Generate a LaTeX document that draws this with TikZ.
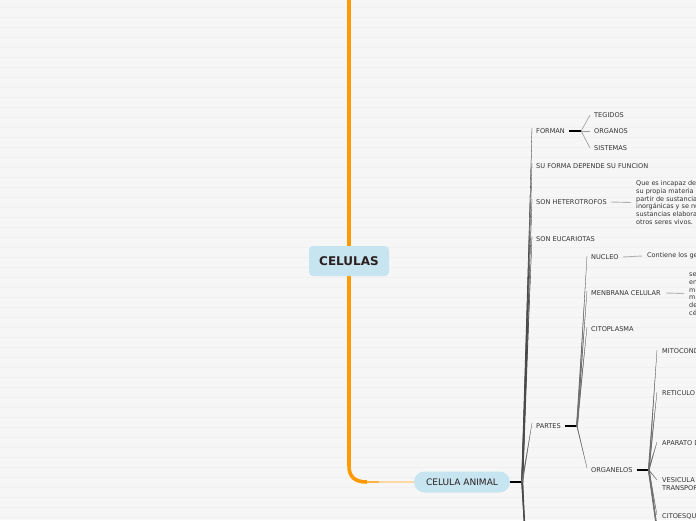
\documentclass[tikz,border=0pt]{standalone}
\usepackage{fontspec}
\setmainfont{DejaVu Sans}
\usetikzlibrary{calc}
\definecolor{bg}{HTML}{F6F6F6}
\definecolor{bgline}{HTML}{F0F0F0}
\definecolor{orng}{HTML}{FF9900}
\definecolor{pale}{HTML}{FDD8A2}
\definecolor{nodeblue}{HTML}{C6E5F0}
\definecolor{txt}{HTML}{333333}
\definecolor{titletxt}{HTML}{2B1F1F}
\definecolor{trunk}{HTML}{4A4A4A}
\definecolor{twig}{HTML}{707070}
\newcommand\tbr[4]{\fill[#4] ($(#1)+(-#3,0)$) -- (#2) -- ($(#1)+(#3,0)$) -- cycle; \draw[#4,line width=0.3pt] (#1) -- (#2);}
\begin{document}
\begin{tikzpicture}[x=1pt,y=-1pt,
  lbl/.style={anchor=west,inner sep=0pt,font=\fontsize{6.6}{7.8}\selectfont,text=txt},
  body/.style={anchor=west,inner sep=0pt,align=left,font=\fontsize{6.5}{7.8}\selectfont,text=txt},
  stub/.style={line width=1.6pt,draw=black},
  leader/.style={line width=0.9pt,draw=gray!60},
  sub/.style={line width=0.6pt,draw=gray!80},
  topic/.style={fill=nodeblue,inner sep=0pt}]
\useasboundingbox (0,0) rectangle (696,520);
\fill[bg] (0,0) rectangle (696,520);
\foreach \yy in {7,17,...,517} \draw[bgline,line width=0.8pt] (0,\yy) -- (696,\yy);
\clip (0,0) rectangle (696,520);

% orange connectors
\coordinate (ce0) at (349,261);
\coordinate (ca0) at (462,482);
\coordinate (topend) at (349,-2);
\coordinate (bend) at (367,482);
\draw[orng,line width=3.6pt] (ce0) -- (topend);
\draw[orng,line width=3.6pt] (ce0) -- (349,466) .. controls (349,477) and (355,482) .. (bend);
\draw[pale,line width=1.6pt] (bend) -- (ca0);
\draw[orng!60!pale,line width=2.2pt] (bend) -- ++(12,0);

% main nodes
\node[topic,minimum width=80,minimum height=30,rounded corners=4pt,
  font=\fontsize{12}{14}\bfseries\selectfont,text=titletxt] (ce) at (ce0) {CELULAS};
\node[topic,minimum width=96,minimum height=21,rounded corners=10.5pt,
  font=\fontsize{9}{11}\selectfont,text=titletxt] (ca) at (ca0) {CELULA ANIMAL};

% children of CELULA ANIMAL
\node[lbl] (forman) at (536,131) {FORMAN};
\node[lbl] (suforma) at (536,166) {SU FORMA DEPENDE SU FUNCION};
\node[lbl] (hetero) at (536,202) {SON HETEROTROFOS};
\node[lbl] (euca) at (536,239) {SON EUCARIOTAS};
\node[lbl] (partes) at (536,426) {PARTES};

\coordinate (caj) at ($(ca.east)+(12,0)$);
\draw[stub] (ca.east) -- (caj);
\coordinate (forman-in) at ($(forman.west)+(-4,-3)$);
\coordinate (suforma-in) at ($(suforma.west)+(-4,-3)$);
\coordinate (hetero-in) at ($(hetero.west)+(-4,-3)$);
\coordinate (euca-in) at ($(euca.west)+(-4,-3)$);
\coordinate (partes-in) at ($(partes.west)+(-4,-3)$);
\coordinate (cah1) at (526,560);
\coordinate (cah2) at (530,620);
\tbr{caj}{forman-in}{0.9}{trunk}
\tbr{caj}{suforma-in}{0.9}{trunk}
\tbr{caj}{hetero-in}{0.9}{trunk}
\tbr{caj}{euca-in}{0.9}{trunk}
\tbr{caj}{partes-in}{0.8}{twig}
\tbr{caj}{cah1}{0.9}{trunk}
\tbr{caj}{cah2}{0.9}{trunk}

% FORMAN
\coordinate (fj) at ($(forman.east)+(16,0)$);
\draw[stub,line width=1.2pt] ($(forman.east)+(4,0)$) -- (fj);
\node[lbl] (tegidos) at (594,115) {TEGIDOS};
\node[lbl] (organos) at (594,131) {ORGANOS};
\node[lbl] (sistemas) at (594,148) {SISTEMAS};
\draw[sub] (fj) -- ($(tegidos.west)+(-4,0)$);
\draw[sub] (fj) -- ($(organos.west)+(-4,0)$);
\draw[sub] (fj) -- ($(sistemas.west)+(-4,0)$);

% SON HETEROTROFOS
\node[body] (heteroT) at (636,202.5) {Que es incapaz de elaborar\\su propia materia orgánica a\\partir de sustancias\\inorgánicas y se nutre de\\sustancias elaboradas por\\otros seres vivos.};
\draw[leader] ($(hetero.east)+(4,0)$) -- ($(heteroT.west)+(-5,0)$);

% PARTES
\coordinate (pj) at ($(partes.east)+(16,0)$);
\draw[stub,line width=1.3pt] ($(partes.east)+(4,0)$) -- (pj);
\node[lbl] (nucleo) at (591,257) {NUCLEO};
\node[lbl] (menbrana) at (591,293) {MENBRANA CELULAR};
\node[lbl] (citoplasma) at (591,329) {CITOPLASMA};
\node[lbl] (organelos) at (591,470) {ORGANELOS};
\coordinate (nucleo-in) at ($(nucleo.west)+(-4,-1)$);
\coordinate (menbrana-in) at ($(menbrana.west)+(-4,-2)$);
\coordinate (citoplasma-in) at ($(citoplasma.west)+(-4,-2)$);
\coordinate (organelos-in) at ($(organelos.west)+(-4,-2)$);
\tbr{pj}{nucleo-in}{0.8}{twig}
\tbr{pj}{menbrana-in}{0.8}{twig}
\tbr{pj}{citoplasma-in}{0.8}{twig}
\tbr{pj}{organelos-in}{0.5}{twig}

\node[body] (nucleoT) at (647,256) {Contiene los genes};
\draw[leader] ($(nucleo.east)+(4,0)$) -- ($(nucleoT.west)+(-5,0)$);
\node[body] (menbranaT) at (689,293.5) {se encarga de envolver\\en su interior al\\medio interno y\\mantener la forma\\de la\\célula.};
\draw[leader] ($(menbrana.east)+(5,0)$) -- ($(menbranaT.west)+(-5,0)$);

% ORGANELOS
\coordinate (oj) at ($(organelos.east)+(16,0)$);
\draw[stub,line width=1.6pt] ($(organelos.east)+(4,0)$) -- (oj);
\node[lbl] (mito) at (662,351) {MITOCONDRIAS};
\node[lbl] (reti) at (662,393) {RETICULO ENDOPLASMATICO};
\node[lbl] (apar) at (662,443) {APARATO DE GOLGI};
\node[lbl,align=left,font=\fontsize{6.6}{7.9}\selectfont] (vesi) at (662,484) {VESICULA DE\\TRANSPORTE};
\node[lbl] (cito) at (662,516) {CITOESQUELETO};
\coordinate (mito-in) at ($(mito.west)+(-5,-1)$);
\coordinate (reti-in) at ($(reti.west)+(-5,-1)$);
\coordinate (apar-in) at ($(apar.west)+(-5,-1)$);
\coordinate (vesi-in) at ($(vesi.west)+(-5,-4)$);
\coordinate (cito-in) at ($(cito.west)+(-5,-1)$);
\coordinate (oh1) at (662,560);
\coordinate (oh2) at (666,600);
\tbr{oj}{mito-in}{0.8}{twig}
\tbr{oj}{reti-in}{0.8}{twig}
\tbr{oj}{apar-in}{0.8}{twig}
\tbr{oj}{vesi-in}{0.6}{twig}
\tbr{oj}{cito-in}{0.8}{twig}
\tbr{oj}{oh1}{0.8}{twig}
\tbr{oj}{oh2}{0.8}{twig}
\end{tikzpicture}
\end{document}
